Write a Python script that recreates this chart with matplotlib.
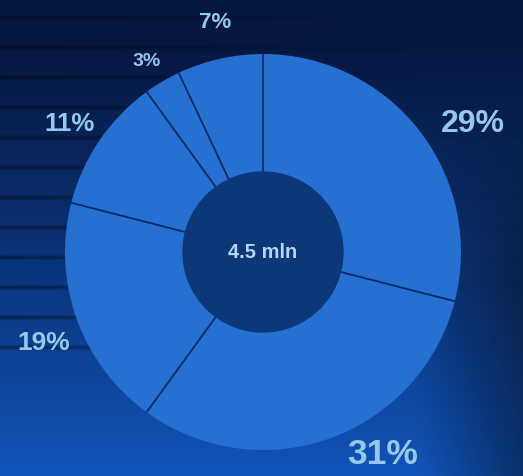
import numpy as np
import matplotlib
matplotlib.use("Agg")
import matplotlib.pyplot as plt

# Data
labels = ["29%", "31%", "19%", "11%", "3%", "7%"]
values = [29, 31, 19, 11, 3, 7]
center_text = "4.5 mln"

W, H = 523, 477
fig = plt.figure(figsize=(W / 100, H / 100), dpi=100)

# Background axes (decorative gradient with horizontal stripes)
bg = fig.add_axes([0, 0, 1, 1])
bg.set_axis_off()
yv = np.linspace(0, 1, H)[:, None]
xv = np.linspace(0, 1, W)[None, :]
top = np.array([6, 24, 66]) / 255
bot = np.array([16, 84, 185]) / 255
t = np.clip((yv - 0.1) / 0.9, 0, 1) ** 1.1
right_dark = np.clip((xv - 0.8) / 0.2, 0, 1) * np.clip((yv - 0.2) / 0.4, 0, 1) * 0.4
img = top[None, None, :] * (1 - t[..., None]) + bot[None, None, :] * t[..., None]
img = img * (1 - right_dark[..., None])
rows = np.arange(H)[:, None]
band = np.zeros((H, 1))
for y0 in range(18, 360, 30):
    band += np.exp(-((rows - y0) / 2.0) ** 2)
fade = np.clip(1 - xv * 1.1, 0.1, 1)
img = img * (1 - 0.4 * band[..., None] * fade[..., None])
img = np.clip(img, 0, 1)
bg.imshow(img, extent=[0, W, H, 0], aspect="auto")
bg.set_xlim(0, W)
bg.set_ylim(H, 0)

# Donut axes
cx, cy, R = 263, 253, 198
r_in = 80 / R
ax = fig.add_axes([(cx - R) / W, 1 - (cy + R) / H, 2 * R / W, 2 * R / H])
ax.set_axis_off()
wedges, _ = ax.pie(values, startangle=90, counterclock=False, radius=1,
                   colors=["#2570d0"] * len(values),
                   wedgeprops=dict(width=1 - r_in, edgecolor="none", linewidth=0))
# separator lines at wedge boundaries
for w in wedges:
    a = np.deg2rad(w.theta1)
    ax.plot([r_in * np.cos(a), np.cos(a)], [r_in * np.sin(a), np.sin(a)],
            color="#0a2a66", lw=1.3, solid_capstyle="butt")
ax.set_xlim(-1, 1)
ax.set_ylim(-1, 1)
ax.set_aspect("equal")
ax.add_patch(plt.Circle((0, 0), r_in, color="#0c387a", zorder=3))
ax.text(0, 0.0, center_text, ha="center", va="center", color="#b8d4f0",
        fontsize=14.5, fontweight="bold", family="Liberation Sans", zorder=4)

# Labels
txt = dict(color="#95c8ea", fontweight="bold", family="Liberation Sans", ha="center", va="center")
positions = [(473, 124, 23), (383, 455, 25.5), (44, 343, 19), (69, 124, 18.5), (147, 62, 14), (215, 23, 16)]
for lab, (x, y, fs) in zip(labels, positions):
    bg.text(x, y, lab, fontsize=fs, **txt)

fig.savefig("out.png", dpi=100)
